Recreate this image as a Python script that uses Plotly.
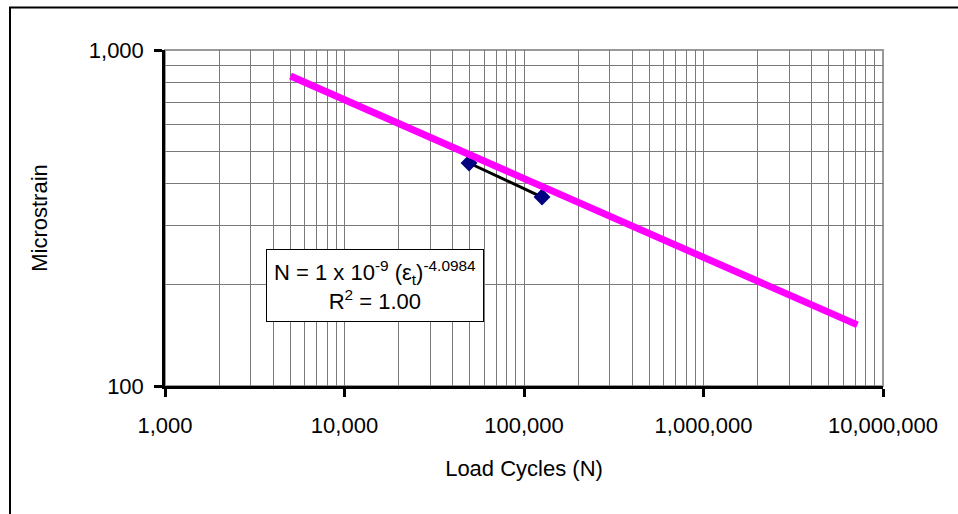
import plotly.graph_objects as go

# Measured fatigue points
cycles = [49400, 126000]
microstrain = [461, 365]

# Power-law trendline end points
trend_cycles = [5000, 7200000]
trend_strain = [837, 152]

x_tick_vals = [1e3, 1e4, 1e5, 1e6, 1e7]
x_tick_text = ["1,000", "10,000", "100,000", "1,000,000", "10,000,000"]
y_tick_vals = [100, 1000]
y_tick_text = ["100", "1,000"]

x_minor = [m * 10 ** e for e in range(3, 7) for m in range(2, 10)]
y_minor = [m * 100 for m in range(2, 10)]

W, H = 958, 514
L, R, T, B = 165, 75, 50, 128
pw, ph = W - L - R, H - T - B


def px(x):
    return (x - L) / pw


def py(y):
    return (H - B - y) / ph


FONT = "Arial, Liberation Sans, sans-serif"
GRID = "#7a7a7a"

fig = go.Figure()

fig.add_trace(go.Scatter(
    x=cycles, y=microstrain, mode="lines+markers",
    line=dict(color="black", width=3),
    marker=dict(symbol="diamond", size=13, color="#000080"),
    showlegend=False,
))

fig.add_trace(go.Scatter(
    x=trend_cycles, y=trend_strain, mode="lines",
    line=dict(color="#FF00FF", width=7),
    showlegend=False,
))

axis_common = dict(
    type="log",
    showline=True, linecolor="black", linewidth=2.5,
    ticks="outside", ticklen=8, tickwidth=2.5, tickcolor="black",
    showgrid=True, gridcolor=GRID, gridwidth=1.3,
    zeroline=False,
    tickfont=dict(family=FONT, size=22, color="black"),
)

fig.update_xaxes(
    **axis_common,
    range=[3, 7],
    tickvals=x_tick_vals, ticktext=x_tick_text,
    minor=dict(tickvals=x_minor, showgrid=True, gridcolor=GRID, gridwidth=1.3, ticks=""),
    ticklabelstandoff=10,
    title=dict(text="Load Cycles (N)", font=dict(family=FONT, size=22, color="black"), standoff=24),
)
fig.update_yaxes(
    **axis_common,
    range=[2, 3],
    tickvals=y_tick_vals, ticktext=y_tick_text,
    minor=dict(tickvals=y_minor, showgrid=True, gridcolor=GRID, gridwidth=1.3, ticks=""),
    ticklabelstandoff=6,
    title=dict(text="Microstrain", font=dict(family=FONT, size=22, color="black"), standoff=36),
)

# gray frame on top/right of the plotting area
fig.add_shape(type="rect", xref="paper", yref="paper", x0=0, x1=1, y0=0, y1=1,
              line=dict(color="#999999", width=2), layer="below")

# outer chart border
fig.add_shape(type="rect", xref="paper", yref="paper",
              x0=px(10), x1=px(970), y0=py(530), y1=py(7.5),
              line=dict(color="black", width=2))

fig.add_annotation(
    xref="paper", yref="paper", x=px(375), y=py(285.5),
    xanchor="center", yanchor="middle",
    text="N = 1 x 10<sup>-9</sup> (ε<sub>t</sub>)<sup>-4.0984</sup><br>R<sup>2</sup> = 1.00",
    showarrow=False, align="center",
    font=dict(family=FONT, size=22, color="black"),
    bgcolor="white", bordercolor="black", borderwidth=1, borderpad=7,
)

fig.update_layout(
    width=W, height=H,
    margin=dict(l=L, r=R, t=T, b=B),
    paper_bgcolor="white", plot_bgcolor="white",
    showlegend=False,
)

fig.write_html("out.html")
